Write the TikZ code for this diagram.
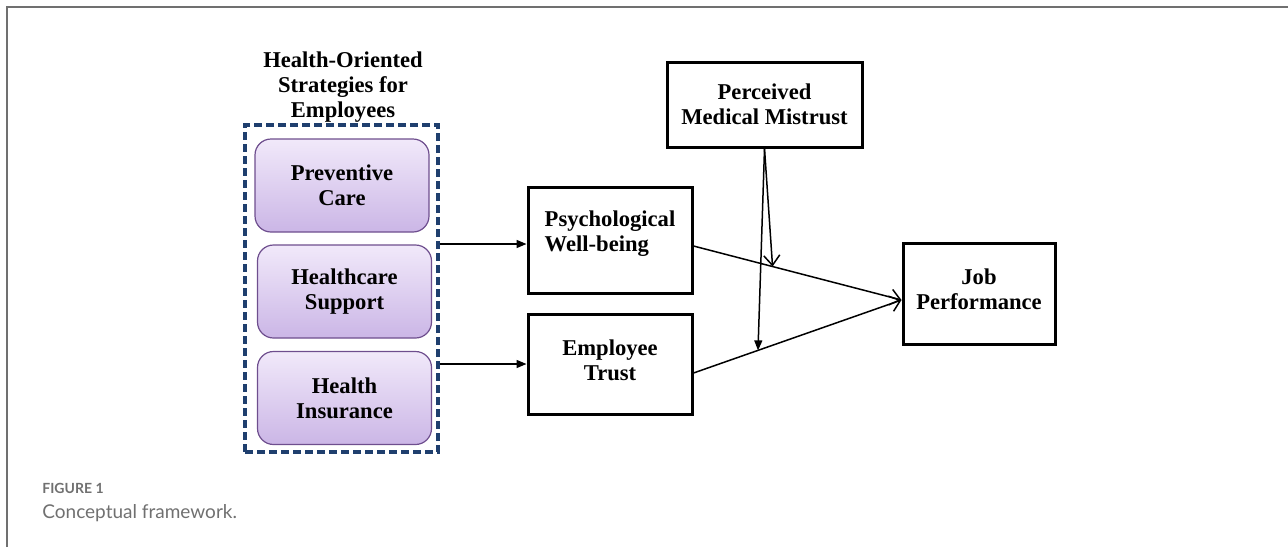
\documentclass[tikz,border=0pt]{standalone}
\usepackage{fontspec}
\setmainfont{Liberation Serif}
\newfontfamily\capfont{Lato}
\usetikzlibrary{arrows.meta, positioning}
\definecolor{navydash}{HTML}{1F3F6E}
\definecolor{lavtop}{HTML}{F1E9FA}
\definecolor{lavbot}{HTML}{CBB6E6}
\definecolor{lavedge}{HTML}{6E4E8E}
\definecolor{capgray}{HTML}{707070}
\newcommand*{\stratWidth}{87pt}
\tikzset{
    strategy/.style  = {draw=lavedge, line width=0.6pt, rounded corners=8pt, top color=lavtop, bottom color=lavbot,
                        minimum width=\stratWidth, minimum height=46.5pt, align=center},
    group/.style     = {draw=navydash, line width=1.7pt, dash pattern=on 4pt off 2pt, minimum width=96.5pt, minimum height=163.5pt},
    construct/.style = {draw, line width=1.5pt, align=center},
    to/.style        = {-{Triangle[length=5pt, width=4pt]}, line width=0.75pt},
    open/.style      = {-{Straight Barb[length=5pt, width=8pt]}, line width=0.75pt}
}

\begin{document}
\begin{tikzpicture}[x=0.5pt, y=-0.5pt, every node/.style={font=\fontsize{11.3}{12.5}\selectfont\bfseries}]
	\useasboundingbox (0,0) rectangle (1288,547);
	% frame of the figure
	\draw [capgray, line width=1pt] (7,547) -- (7,7) -- (1288,7);

	% strategies
	\node (hos)   [group] at (341.5,288.5) {};
	\node (title) [align=center] at (343,87) {Health-Oriented\\Strategies for\\Employees};
	\node (prev)  [strategy] at (342,185.5) {Preventive\\Care};
	\node (supp)  [strategy] at (344.5,291.5) {Healthcare\\Support};
	\node (ins)   [strategy] at (344.5,398) {Health\\Insurance};

	% constructs
	\node (pwb)   [construct, minimum width=82pt, minimum height=53pt, align=left] at (610,240) {Psychological\\Well-being\\[-4pt]};
	\node (trust) [construct, minimum width=82pt, minimum height=50pt] at (610,364) {Employee\\Trust\\[-8.5pt]};
	\node (pmm)   [construct, minimum width=97.5pt, minimum height=42.5pt] at (764.5,104.5) {Perceived\\Medical Mistrust};
	\node (job)   [construct, minimum width=76pt, minimum height=50.5pt] at (979,293.5) {Job\\Performance\\[-8.5pt]};

	\draw [to] (hos.east |- 0,244) -- (pwb.west |- 0,244);
	\draw [to] (hos.east |- trust.west) -- (trust.west);
	\draw [open] ([yshift=-3pt]pwb.east) -- coordinate[pos=0.38] (m1) ([yshift=-3.25pt]job.west);
	\draw [open] ([yshift=-4.5pt]trust.east) -- coordinate[pos=0.31] (m2) ([yshift=-3.25pt]job.west);
	\draw [open] (pmm.south) -- (m1);
	\draw [to] (pmm.south) -- (m2);

	% caption
	\node (fig) [anchor=west, font=\capfont\fontsize{7}{8}\selectfont\bfseries, text=capgray, inner sep=0pt] at (42,488) {FIGURE 1};
	\node (cap) [anchor=west, font=\capfont\fontsize{9.5}{11}\selectfont, text=capgray, inner sep=0pt] at (42,513) {Conceptual framework.};
\end{tikzpicture}
\end{document}
